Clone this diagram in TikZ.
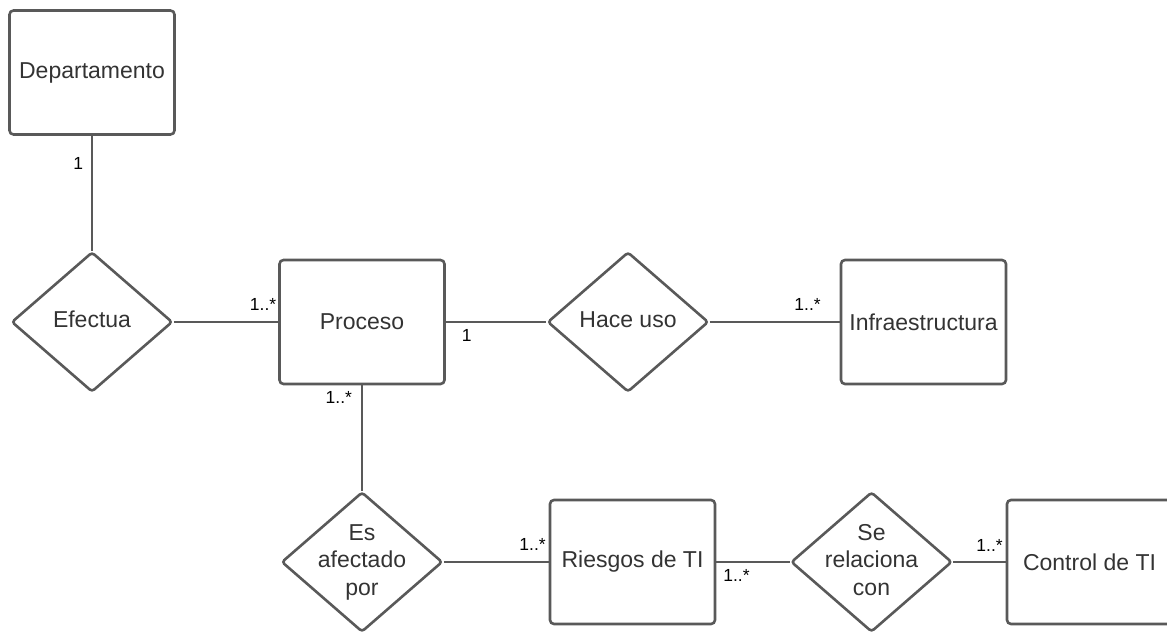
\documentclass[tikz,border=0pt]{standalone}
\usepackage{fontspec}
\setmainfont{Liberation Sans}
\usepackage{tikz}
\usetikzlibrary{positioning}
\usetikzlibrary{shapes.geometric}
\definecolor{linegray}{HTML}{595959}
\definecolor{textgray}{HTML}{333333}
\newcommand{\reltext}[1]{\makebox[0pt]{\begin{tabular}{@{}c@{}}#1\end{tabular}}}
\tikzset{
    er diagram/.style={
            x=1pt,y=-1pt,
            entity/.style={draw=linegray, line width=2.6pt, rounded corners=4pt,
                minimum width=165pt, minimum height=124pt,
                text=textgray, font=\fontsize{23}{27.5}\selectfont},
            relation/.style={diamond, draw=linegray, line width=2.6pt, rounded corners=3pt,
                minimum width=161pt, minimum height=140pt, inner sep=0pt,
                text=textgray, font=\fontsize{23}{27.5}\selectfont},
            link/.style={draw=linegray, line width=2pt},
            card/.style={inner sep=0pt, text=black, font=\fontsize{17.5}{21}\selectfont}
        }
    }

\begin{document}
\begin{tikzpicture}[er diagram]
        \useasboundingbox (0,0) rectangle (1167,632);
        \clip (0,0) rectangle (1167,632);
        \node (dep) [entity] at (92,72.5) {Departamento};
        \node (efectua) [relation, node distance=249.5pt, below of=dep] {\reltext{Efectua}};
        \node (proceso) [entity, node distance=270pt, right of=efectua] {Proceso};
        \node (haceuso) [relation, node distance=266pt, right of=proceso] {\reltext{Hace uso}};
        \node (infra) [entity, node distance=295.5pt, right of=haceuso] {Infraestructura};
        \node (esafect) [relation, node distance=240pt, below of=proceso] {\reltext{Es\\afectado\\por}};
        \node (riesgos) [entity, node distance=270.5pt, right of=esafect] {Riesgos de TI};
        \node (serel) [relation, node distance=239pt, right of=riesgos] {\reltext{Se\\relaciona\\con}};
        \node (control) [entity, node distance=218pt, right of=serel] {Control de TI};
        \draw [link] (dep) -- (efectua) node [pos=0.24, card, left=8pt] {1};
        \draw [link] (efectua) -- (proceso) node [pos=1, card, above left=11pt and 1pt] {1..*};
        \draw [link] (proceso) -- (haceuso) node [pos=0, card, below right=6pt and 15pt] {1};
        \draw [link] (haceuso) -- (infra) node [pos=1, card, above left=11pt and 18pt] {1..*};
        \draw [link] (proceso) -- (esafect) node [pos=0, card, below left=5pt and 9pt] {1..*};
        \draw [link] (esafect) -- (riesgos) node [pos=1, card, above left=11pt and 2pt] {1..*};
        \draw [link] (riesgos) -- (serel) node [pos=0, card, below right=6pt and 6pt] {1..*};
        \draw [link] (serel) -- (control) node [pos=1, card, above left=10pt and 2pt] {1..*};
    \end{tikzpicture}
\end{document}
